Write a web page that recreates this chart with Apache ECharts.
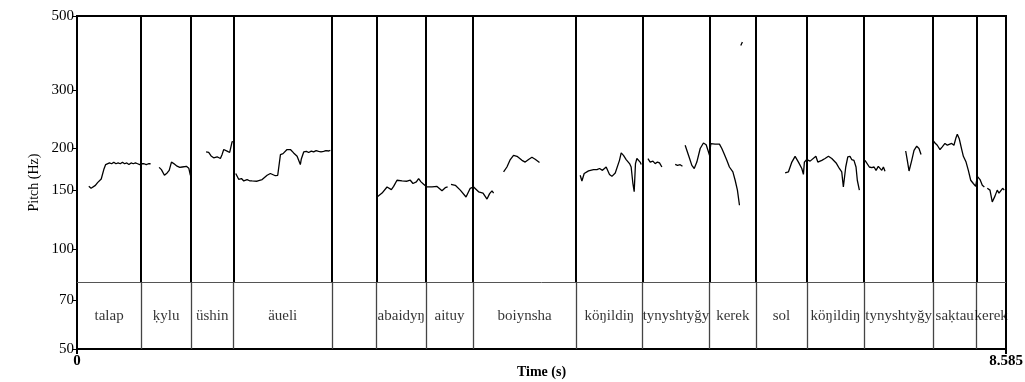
<!DOCTYPE html>
<html>
<head>
<meta charset="utf-8">
<script src="https://cdn.jsdelivr.net/npm/echarts@6/dist/echarts.min.js"></script>
<style>
  html, body { margin: 0; padding: 0; background: #fff; }
  #chart { width: 1025px; height: 382px; }
</style>
</head>
<body>
<div id="chart"></div>
<script>
// word tier: interval boundaries (s) and labels
var boundaries = [0.593, 1.055, 1.445, 2.357, 2.769, 3.225, 3.659, 4.613, 5.226, 5.845, 6.276, 6.744, 7.273, 7.911, 8.311]
var words = ['talap', 'k\u0323ylu', 'üshin', 'äueli', '', 'abaidyŋ', 'aituy', 'boiynsha', 'köŋildiŋ', 'tynyshtyğy', 'kerek', 'sol', 'köŋildiŋ', 'tynyshtyğy', 'sak\u0323tau', 'kerek']
var tMax = 8.585
var tierLine = 79.4
var yTicks = [50, 70, 100, 150, 200, 300, 500]

// pitch track pieces [time s, Hz]
var talap = [[0.109, 154], [0.13, 152], [0.146, 150], [0.17, 155], [0.19, 158], [0.224, 162], [0.25, 174], [0.265, 179],
  [0.28, 180], [0.30, 181], [0.32, 180], [0.34, 182], [0.36, 180], [0.38, 181], [0.40, 180], [0.42, 182], [0.44, 180],
  [0.46, 181], [0.48, 179], [0.50, 181], [0.52, 180], [0.54, 181], [0.56, 180], [0.58, 179], [0.60, 180], [0.62, 180],
  [0.64, 179], [0.66, 180], [0.68, 180]]
var kylu = [[0.759, 175.6], [0.780, 172.8], [0.808, 166.2], [0.833, 168.9], [0.852, 172], [0.873, 182.1], [0.894, 180.2],
  [0.925, 177], [0.95, 175.5], [0.972, 176], [1.011, 176.8], [1.033, 174.6], [1.048, 166]]
var ushin = [[1.193, 195.3], [1.217, 194.6], [1.239, 190], [1.263, 187.6], [1.295, 188.9], [1.325, 186.6], [1.341, 192],
  [1.356, 198.6], [1.387, 196.4], [1.411, 194.6], [1.425, 196], [1.433, 209.3], [1.441, 210]]
var aueli = [[1.467, 168.3], [1.494, 161.7], [1.52, 162.5], [1.541, 159.8], [1.572, 161.3], [1.595, 160], [1.618, 159.8],
  [1.664, 159.5], [1.711, 161.3], [1.757, 166.2], [1.787, 168.3], [1.833, 165.7], [1.855, 166.2], [1.880, 191.8],
  [1.904, 193], [1.941, 198.6], [1.972, 198.6], [2.002, 194], [2.034, 189.5], [2.064, 179], [2.073, 186.1],
  [2.095, 195.3], [2.12, 196], [2.141, 194.6], [2.165, 196.5], [2.187, 195.3], [2.21, 197], [2.233, 196.2],
  [2.255, 195.5], [2.279, 196.2], [2.30, 197], [2.326, 196.6], [2.341, 197.5]]
var abaidyn = [[2.773, 143], [2.819, 147], [2.865, 153.3], [2.905, 150.5], [2.926, 153.9], [2.957, 160.6], [3.004, 159.8],
  [3.050, 159.5], [3.080, 160.6], [3.105, 157], [3.136, 158.8], [3.157, 162.5], [3.179, 158.8], [3.203, 156.2],
  [3.234, 153.3], [3.281, 153.3], [3.327, 153.9], [3.373, 149.3], [3.403, 152.5], [3.425, 153.3]]
var aituy = [[3.456, 156.2], [3.496, 155.1], [3.542, 150], [3.595, 143], [3.634, 151.9], [3.665, 153.3], [3.711, 148.3],
  [3.752, 147], [3.789, 141], [3.813, 146.4], [3.835, 149.3], [3.850, 147]]
var boiynsha = [[3.942, 170.1], [3.973, 176], [4.004, 185.3], [4.034, 190.8], [4.066, 189.5], [4.112, 184.3], [4.142, 182.1],
  [4.173, 185.3], [4.204, 188.2], [4.234, 185.7], [4.250, 187], [4.274, 181.5]]
var blip = [[6.134, 408], [6.149, 418]]
var konildin1 = [[4.650, 166.2], [4.666, 159.8], [4.687, 168.3], [4.727, 171.4], [4.773, 172.8], [4.805, 172.8],
  [4.829, 174.2], [4.856, 172], [4.890, 176], [4.921, 167.2], [4.943, 165], [4.974, 168.9], [4.989, 170.1],
  [5.013, 184.3], [5.029, 194.1], [5.050, 190.8], [5.075, 185.3], [5.106, 180.2], [5.121, 176], [5.137, 157],
  [5.149, 148.3], [5.161, 180.2], [5.174, 186.6], [5.189, 188.9], [5.204, 182.1], [5.214, 179.1]]
var tynysh1a = [[5.276, 186.6], [5.297, 182.1], [5.322, 183.3], [5.343, 180.2], [5.364, 182.1], [5.383, 181], [5.405, 176]]
var tynysh1b = [[5.528, 179.1], [5.549, 178], [5.574, 178.8], [5.595, 177]]
var kerek1 = [[5.620, 204.6], [5.651, 190.8], [5.682, 178], [5.704, 174.2], [5.728, 182.1], [5.759, 200], [5.789, 207.8],
  [5.814, 205.3], [5.836, 195.3], [5.845, 190.8], [5.857, 207], [5.897, 206.2], [5.937, 206.2], [5.959, 200],
  [5.980, 193], [6.005, 184.3], [6.029, 176], [6.061, 170.1], [6.082, 160.6], [6.103, 150], [6.122, 135.1]]
var solKonildin = [[6.544, 168.9], [6.574, 170.1], [6.606, 182.1], [6.636, 189.5], [6.667, 182.1], [6.682, 180.2],
  [6.698, 174.2], [6.713, 167.2], [6.722, 182.1], [6.744, 185.3], [6.775, 183.3], [6.791, 183], [6.828, 189.5],
  [6.846, 182.1], [6.883, 184.3], [6.913, 186.6], [6.944, 189.5], [6.975, 186.6], [7.015, 181], [7.045, 174.2],
  [7.067, 170.1], [7.082, 153.3], [7.104, 176], [7.123, 188.9], [7.143, 189.5], [7.159, 185.3], [7.180, 184.3],
  [7.199, 176], [7.211, 160.6], [7.230, 150]]
var tynysh2a = [[7.282, 184.3], [7.298, 182.1], [7.322, 176], [7.344, 175.2], [7.366, 176], [7.384, 172], [7.405, 176.8],
  [7.421, 176], [7.437, 172], [7.452, 176], [7.467, 171]]
var tynysh2b = [[7.658, 196.6], [7.673, 184.3], [7.689, 171.2], [7.714, 184.3], [7.735, 197.5], [7.760, 203.2],
  [7.781, 200], [7.800, 191.8]]
var saktau = [[7.908, 211.7], [7.929, 207.8], [7.950, 204.6], [7.975, 198.6], [7.996, 202.3], [8.021, 207.1],
  [8.043, 204.6], [8.061, 202.3], [8.083, 207.1], [8.104, 204.6], [8.123, 215.6], [8.135, 220.6], [8.153, 214],
  [8.176, 198.6], [8.191, 189.5], [8.216, 182.1], [8.237, 172], [8.259, 160.6], [8.283, 157], [8.305, 153.9],
  [8.320, 164.9], [8.345, 161.3], [8.366, 155.1], [8.385, 153.3]]
var kerek2 = [[8.412, 151.9], [8.437, 150], [8.458, 138.2], [8.483, 143.9], [8.504, 150], [8.520, 146.9],
  [8.536, 149.3], [8.554, 151.9], [8.569, 150]]

var pieces = [talap, kylu, ushin, aueli, abaidyn, aituy, boiynsha, blip, konildin1, tynysh1a, tynysh1b, kerek1,
  solKonildin, tynysh2a, tynysh2b, saktau, kerek2]

var pitchData = []
pieces.forEach(function (p) {
  p.forEach(function (pt) { pitchData.push(pt) })
  pitchData.push([null, null])
})

var edges = [0].concat(boundaries, [tMax])
var wordData = []
for (var i = 0; i < words.length; i++) {
  wordData.push({ value: [(edges[i] + edges[i + 1]) / 2, 63], name: words[i] })
}

var serif = '"Liberation Serif", "DejaVu Serif", serif'

var option = {
  animation: false,
  grid: {
    left: 77, right: 19, top: 16, bottom: 33,
    outerBoundsMode: 'none',
    containLabel: false,
    show: true, borderColor: '#000', borderWidth: 2, backgroundColor: '#fff'
  },
  xAxis: {
    type: 'value',
    min: 0,
    max: tMax,
    name: 'Time (s)',
    nameLocation: 'middle',
    nameGap: 16,
    nameMoveOverlap: false,
    nameTextStyle: { fontFamily: serif, fontWeight: 'bold', fontSize: 14, color: '#000' },
    splitLine: { show: false },
    axisLine: { lineStyle: { color: '#000', width: 2 } },
    axisTick: { show: true, length: 5, customValues: [0, tMax], lineStyle: { color: '#000', width: 2 } },
    axisLabel: {
      customValues: [0, tMax],
      formatter: function (v) { return v === 0 ? '0' : '8.585' },
      fontFamily: serif, fontWeight: 'bold', fontSize: 15, color: '#000', margin: 5
    }
  },
  yAxis: {
    type: 'log',
    logBase: 10,
    min: 50,
    max: 500,
    name: 'Pitch (Hz)',
    nameLocation: 'middle',
    nameGap: 36,
    nameMoveOverlap: false,
    nameTextStyle: { fontFamily: serif, fontSize: 14, color: '#000' },
    splitLine: { show: false },
    axisLine: { lineStyle: { color: '#000', width: 2 } },
    axisTick: { show: true, length: 5, customValues: yTicks, lineStyle: { color: '#000', width: 1 } },
    axisLabel: {
      customValues: yTicks,
      fontFamily: serif, fontSize: 15, color: '#000', margin: 3
    }
  },
  series: [
    {
      type: 'line',
      data: pitchData,
      showSymbol: false,
      symbol: 'none',
      connectNulls: false,
      lineStyle: { color: '#000', width: 1.3 },
      z: 5,
      markLine: {
        silent: true,
        symbol: 'none',
        label: { show: false },
        data: [[{ coord: [0, tierLine] }, { coord: [tMax, tierLine], lineStyle: { color: '#555', width: 1, type: 'solid' } }]]
          .concat(boundaries.map(function (b) {
            return [{ coord: [b, tierLine] }, { coord: [b, 500], lineStyle: { color: '#000', width: 2, type: 'solid' } }]
          }))
          .concat(boundaries.map(function (b) {
            return [{ coord: [b, 50] }, { coord: [b, tierLine], lineStyle: { color: '#444', width: 1.3, type: 'solid' } }]
          }))
      }
    },
    {
      type: 'scatter',
      data: wordData,
      symbolSize: 0,
      silent: true,
      label: {
        show: true,
        position: 'inside',
        formatter: function (p) { return p.name },
        fontFamily: serif, fontSize: 15, color: '#000'
      },
      z: 6
    }
  ]
}

var myChart = echarts.init(document.getElementById('chart'))
myChart.setOption(option)
</script>
</body>
</html>
